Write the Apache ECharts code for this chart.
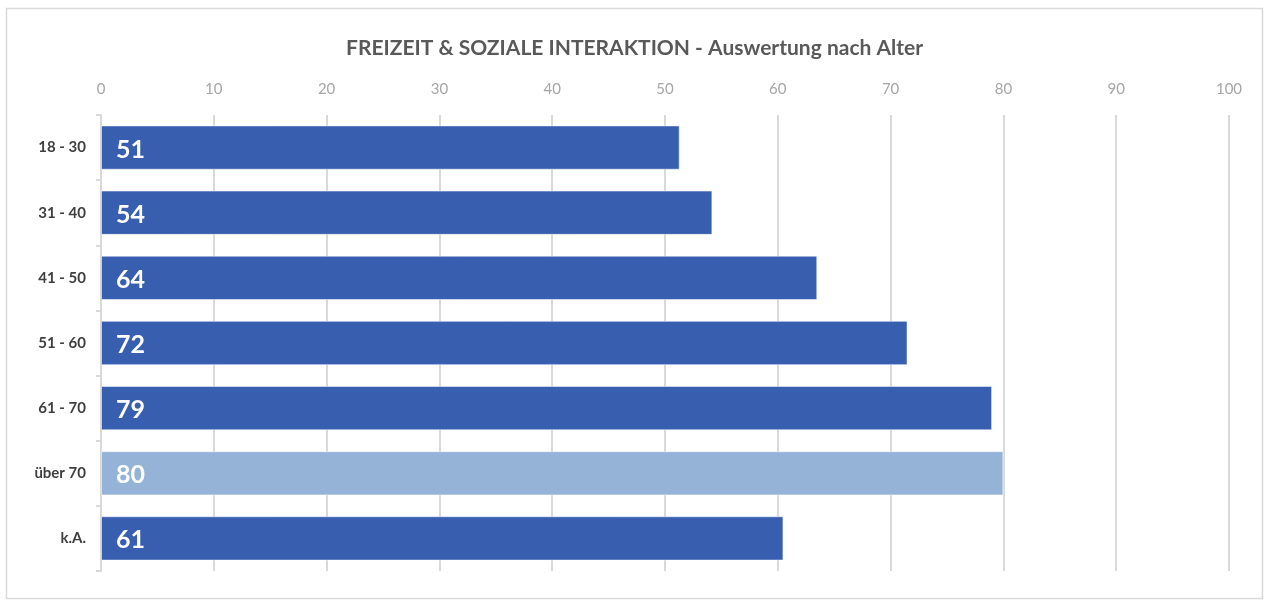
<!DOCTYPE html>
<html>
<head>
<meta charset="utf-8">
<script src="https://cdn.jsdelivr.net/npm/echarts@6/dist/echarts.min.js"></script>
<style>
  html, body { margin: 0; padding: 0; background: #fff; }
  #chart { width: 1269px; height: 601px; }
</style>
</head>
<body>
<div id="chart"></div>
<script>
// Altersgruppen (von oben nach unten)
const categories = ['18 - 30', '31 - 40', '41 - 50', '51 - 60', '61 - 70', 'über 70', 'k.A.']
// Balkenwerte, aus dem Bild gelesen
const values = [51.3, 54.2, 63.5, 71.5, 79, 80, 60.5]
// hervorgehobene Gruppe
const highlight = 'über 70'
const xTicks = [0, 10, 20, 30, 40, 50, 60, 70, 80, 90, 100]

const font = 'Lato, "Open Sans", sans-serif'

const chart = echarts.init(document.getElementById('chart'))

const option = {
  backgroundColor: '#ffffff',
  animation: false,
  title: {
    text: 'FREIZEIT & SOZIALE INTERAKTION - Auswertung nach Alter',
    left: 'center',
    top: 33,
    textStyle: { fontFamily: font, fontWeight: 'bold', fontSize: 21, color: '#595959' }
  },
  graphic: [{
    type: 'rect',
    shape: { x: 6.5, y: 8.5, width: 1256, height: 590 },
    style: { fill: 'none', stroke: '#d9d9d9', lineWidth: 1.5 },
    silent: true
  }],
  grid: { left: 101, right: 40, top: 115, bottom: 30 },
  xAxis: {
    type: 'value',
    position: 'top',
    min: xTicks[0],
    max: xTicks[xTicks.length - 1],
    interval: 10,
    axisLine: { show: false },
    axisTick: { show: false },
    axisLabel: { color: '#a6a6a6', fontFamily: font, fontSize: 15, margin: 18 },
    splitLine: { show: true, lineStyle: { color: '#d9d9d9', width: 2 } }
  },
  yAxis: {
    type: 'category',
    data: categories,
    inverse: true,
    axisLine: { show: true, lineStyle: { color: '#d9d9d9', width: 2 } },
    axisTick: { show: true, length: 5, lineStyle: { color: '#d9d9d9', width: 2 } },
    axisLabel: { color: '#404040', fontFamily: font, fontWeight: 'bold', fontSize: 15, margin: 15 }
  },
  series: [{
    type: 'bar',
    barCategoryGap: '32%',
    data: values.map((v, i) => ({
      value: v,
      itemStyle: { color: categories[i] === highlight ? '#95b3d7' : '#385eb0' }
    })),
    itemStyle: { borderColor: 'rgba(255,255,255,0.5)', borderWidth: 1 },
    label: {
      show: true,
      position: 'insideLeft',
      offset: [10, 2],
      formatter: p => Math.round(p.value),
      color: '#ffffff',
      fontFamily: font,
      fontWeight: 'bold',
      fontSize: 25
    }
  }]
}

chart.setOption(option)
</script>
</body>
</html>
